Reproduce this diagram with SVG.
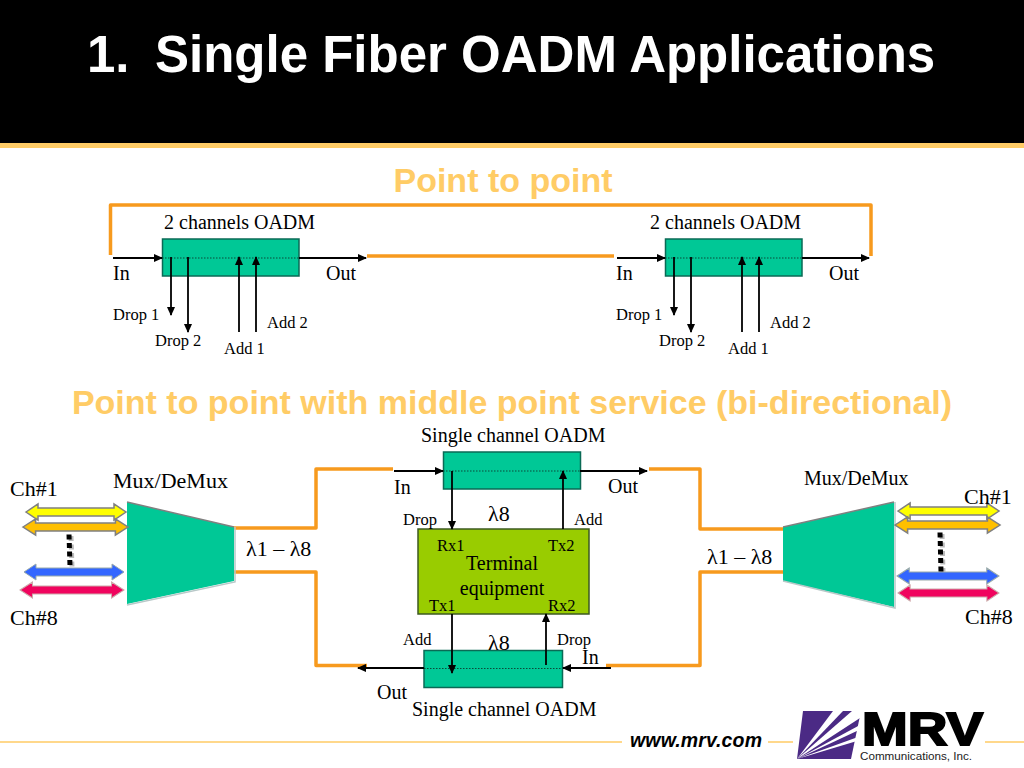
<svg xmlns="http://www.w3.org/2000/svg" width="1024" height="768" viewBox="0 0 1024 768">
<style>
.t{font-family:"Liberation Serif","Times New Roman",serif;fill:#000}
.s22{font-size:22px}.s20{font-size:20px}.s16{font-size:16.500px}
.h{font-family:"Liberation Sans",Arial,sans-serif;font-weight:bold;fill:#FFCC66;font-size:34px}
.o{fill:none;stroke:#F79A1E;stroke-width:3.500;stroke-linejoin:round}
.a{fill:none;stroke:#000;stroke-width:1.800;marker-end:url(#ah)}
.d{fill:none;stroke:#0b4a3a;stroke-width:1;stroke-dasharray:1.5 1.5}
.box{fill:#00C896;stroke:#0a6a55;stroke-width:1.5}
.mux{fill:#00C896}
.g{stroke:#808080;stroke-width:1.5}
.dots{fill:none;stroke:#000;stroke-width:5;stroke-dasharray:5 3.500}
.dsh{fill:none;stroke:#bbb;stroke-width:5;stroke-dasharray:5 3.500}
</style>
<defs>
<marker id="ah" markerWidth="9" markerHeight="9" refX="8" refY="4" orient="auto" markerUnits="userSpaceOnUse" viewBox="0 0 9 8"><path d="M0 0L9 4L0 8Z" fill="#000"/></marker>
<path id="dbl" d="M0 0L12-8V-4H88V-8L100 0L88 8V4H12V8Z"/>
</defs>
<rect width="1024" height="768" fill="#fff"/>
<g id="header">
<rect width="1024" height="143" fill="#000"/>
<rect y="143" width="1024" height="5" fill="#FFCC66"/>
<text x="87" y="72" font-family="'Liberation Sans',Arial,sans-serif" font-weight="bold" font-size="51" fill="#fff">1.</text>
<text x="155" y="72" font-family="'Liberation Sans',Arial,sans-serif" font-weight="bold" font-size="51" fill="#fff">Single Fiber OADM Applications</text>
</g>
<text class="h" x="503" y="192" text-anchor="middle">Point to point</text>
<text class="h" x="512" y="414" text-anchor="middle">Point to point with middle point service (bi-directional)</text>

<g id="connectors">
<path class="o" d="M110.500 255V205H871V256"/>
<path class="o" d="M367 256H614"/>
<path class="o" d="M233 528H316V469H393"/>
<path class="o" d="M232 572H316V665.500H367"/>
<path class="o" d="M649 469H700V529H783"/>
<path class="o" d="M783 572H700V665.500H606"/>
</g>

<g id="oadm-left">
<rect class="box" x="162.500" y="239" width="136.500" height="37"/>
<path class="d" d="M162 258H299"/>
<path class="a" d="M113 258H162"/><path class="a" d="M299 258H366"/>
<path class="a" d="M171 257V315"/><path class="a" d="M188 257V332"/>
<path class="a" d="M239 332V257"/><path class="a" d="M256 332V257"/>
<text class="t s20" x="164" y="229">2 channels OADM</text>
<text class="t s20" x="113" y="280">In</text><text class="t s20" x="326" y="280">Out</text>
<text class="t s16" x="113" y="320">Drop 1</text><text class="t s16" x="155" y="346">Drop 2</text>
<text class="t s16" x="224" y="354">Add 1</text><text class="t s16" x="267" y="328">Add 2</text>
</g>
<g id="oadm-right">
<rect class="box" x="665.500" y="239" width="136.500" height="37"/>
<path class="d" d="M665 258H802"/>
<path class="a" d="M617 258H665"/><path class="a" d="M802 258H869"/>
<path class="a" d="M674 257V315"/><path class="a" d="M691 257V332"/>
<path class="a" d="M742 332V257"/><path class="a" d="M759 332V257"/>
<text class="t s20" x="650" y="229">2 channels OADM</text>
<text class="t s20" x="616" y="280">In</text><text class="t s20" x="829" y="280">Out</text>
<text class="t s16" x="616" y="320">Drop 1</text><text class="t s16" x="659" y="346">Drop 2</text>
<text class="t s16" x="728" y="354">Add 1</text><text class="t s16" x="770" y="328">Add 2</text>
</g>

<g id="mux-left">
<polygon class="mux" points="127,502 234,527 234,581 127,604"/>
<path class="g" d="M127 502L234 527" fill="none"/>
<path d="M127 605L235 582V527" fill="none" stroke="#b8c8c8" stroke-width="1.500"/>
<g class="g">
<use href="#dbl" transform="translate(26,512)" fill="#FFFF00"/>
<use href="#dbl" transform="translate(23,527) scale(1.050,1)" fill="#FFC000"/>
</g>
<use href="#dbl" transform="translate(24,572)" fill="#3366FF" stroke="#9aa"/>
<use href="#dbl" transform="translate(20,590) scale(1.040,1)" fill="#F0045E" stroke="#caa"/>
<path class="dsh" d="M71 536L72 568"/>
<path class="dots" d="M69 534.500L70 566"/>
<text class="t s22" x="113" y="488">Mux/DeMux</text>
<text class="t s22" x="10" y="496">Ch#1</text><text class="t s22" x="10" y="625">Ch#8</text>
<text class="t s22" x="246" y="556">λ1 – λ8</text>
</g>
<g id="mux-right">
<polygon class="mux" points="783,527 894,502 894,607 783,581"/>
<path class="g" d="M783 527L894 502" fill="none"/>
<path d="M783 581L895 608V502" fill="none" stroke="#b8c8c8" stroke-width="1.500"/>
<g class="g">
<use href="#dbl" transform="translate(898,511) scale(1.010,1)" fill="#FFFF00"/>
<use href="#dbl" transform="translate(895,525) scale(1.050,1)" fill="#FFC000"/>
</g>
<use href="#dbl" transform="translate(897,576) scale(1.020,1)" fill="#3366FF" stroke="#9aa"/>
<use href="#dbl" transform="translate(898,593) scale(1.010,1)" fill="#F0045E" stroke="#caa"/>
<path class="dsh" d="M942 534L943 572"/>
<path class="dots" d="M940 532.500L941 572"/>
<text class="t s20" x="804" y="485">Mux/DeMux</text>
<text class="t s22" x="964" y="504">Ch#1</text><text class="t s22" x="965" y="624">Ch#8</text>
<text class="t s22" x="707" y="564">λ1 – λ8</text>
</g>

<g id="oadm-top">
<rect class="box" x="443.500" y="452" width="137" height="37"/>
<path class="d" d="M443 471H580"/>
<path class="a" d="M394 471H443"/><path class="a" d="M580 471H647"/>
<text class="t s20" x="421" y="442">Single channel OADM</text>
<text class="t s20" x="394" y="494">In</text><text class="t s20" x="608" y="493">Out</text>
</g>
<g id="oadm-bottom">
<rect class="box" x="424" y="650.500" width="138.500" height="37"/>
<path class="d" d="M424 668.500H562"/>
<path class="a" d="M424 668H358"/><path class="a" d="M611 668H563"/>
<text class="t s16" x="403" y="645">Add</text><text class="t s16" x="557" y="645">Drop</text>
<text class="t s22" x="488" y="650">λ8</text>
<text class="t s20" x="582" y="664">In</text>
<text class="t s20" x="377" y="699">Out</text>
<text class="t s20" x="412" y="716">Single channel OADM</text>
</g>
<g id="terminal">
<rect x="418" y="529" width="171" height="85" fill="#99CC00" stroke="#3d5a20" stroke-width="1.500"/>
<path class="a" d="M452 471V529"/><path class="a" d="M563 529V471"/>
<path class="a" d="M452 614V673"/><path class="a" d="M546 665V614"/>
<text class="t s16" x="403" y="525">Drop</text><text class="t s16" x="574" y="525">Add</text>
<text class="t s22" x="488" y="521">λ8</text>
<text class="t s16" x="437" y="551">Rx1</text><text class="t s16" x="548" y="551">Tx2</text>
<text class="t s20" x="502" y="570" text-anchor="middle">Terminal</text>
<text class="t s20" x="502" y="595" text-anchor="middle">equipment</text>
<text class="t s16" x="429" y="611">Tx1</text><text class="t s16" x="548" y="611">Rx2</text>
</g>

<g id="footer">
<path d="M0 742H622M768 742H793M985 742H1024" stroke="#FFCC66" stroke-width="1.500" fill="none"/>
<text x="630" y="747" font-family="'Liberation Sans',Arial,sans-serif" font-weight="bold" font-style="italic" font-size="19.500" fill="#000" textLength="132">www.mrv.com</text>
<polygon points="803,711 861,711 851,759 797,759" fill="#4B2A85"/>
<polygon points="797,759 833,711 843,711" fill="#fff"/>
<polygon points="797,759 852,711 866,711 860,718" fill="#fff"/>
<polygon points="797,759 860,725 859,730" fill="#fff"/>
<polygon points="797,759 858,737 857,741" fill="#fff"/>
<text x="862" y="745" font-family="'Liberation Sans',Arial,sans-serif" font-weight="bold" font-size="47" fill="#000" stroke="#000" stroke-width="2" textLength="121" lengthAdjust="spacingAndGlyphs">MRV</text>
<text x="860" y="760" font-family="'Liberation Sans',Arial,sans-serif" font-size="11.500" fill="#222" textLength="112" lengthAdjust="spacingAndGlyphs">Communications, Inc.</text>
</g>
</svg>
